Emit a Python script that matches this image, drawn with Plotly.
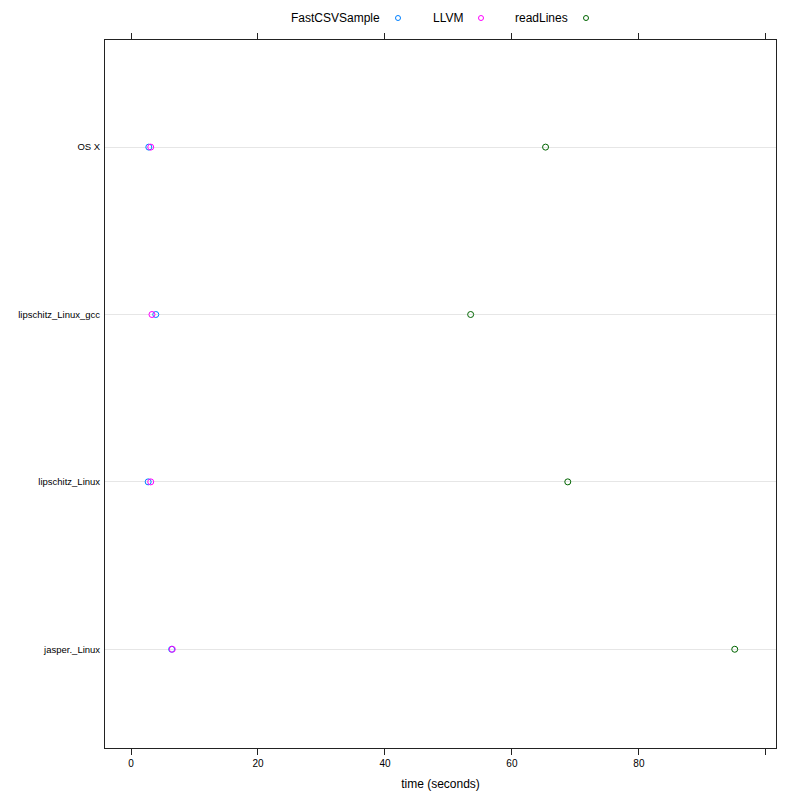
import plotly.graph_objects as go

categories = ["jasper._Linux", "lipschitz_Linux", "lipschitz_Linux_gcc", "OS X"]
series_names = ["FastCSVSample", "LLVM", "readLines"]
fastcsv = [6.4, 2.7, 3.9, 2.8]
llvm = [6.5, 3.1, 3.3, 3.1]
readlines = [95.1, 68.8, 53.5, 65.3]
colors = ["#0080ff", "#ff00ff", "#006400"]
x_ticks = [0, 20, 40, 60, 80, 100]
x_ticklabels = ["0", "20", "40", "60", "80", ""]

# plot area in page pixels (page has 8px body margin)
PL, PR, PT, PB = 105, 776, 40, 748

ypos = list(range(1, len(categories) + 1))
fig = go.Figure()
for name, vals, col in zip(series_names, [fastcsv, llvm, readlines], colors):
    fig.add_trace(go.Scatter(
        x=vals, y=ypos, mode="markers", name=name, showlegend=False,
        marker=dict(symbol="circle-open", size=6, color=col, line=dict(width=1, color=col)),
    ))

def px(x):
    return (x - PL) / (PR - PL)

def py(y):
    return (PB - y) / (PB - PT)

# legend drawn as text + symbol (text first, as in the reference)
leg_text_x = [382, 465, 570]
leg_sym_x = [398, 481, 586]
for name, col, tx, sx in zip(series_names, colors, leg_text_x, leg_sym_x):
    fig.add_annotation(x=px(tx), y=py(18), xref="paper", yref="paper",
                       text=name, showarrow=False, xanchor="right", yanchor="middle",
                       font=dict(size=12, color="black"))
    fig.add_shape(type="circle", xref="paper", yref="paper",
                  x0=px(sx - 2.5), x1=px(sx + 2.5),
                  y0=py(20.5), y1=py(15.5),
                  line=dict(color=col, width=1))

fig.update_layout(
    width=800, height=800,
    margin=dict(l=PL - 8, r=800 + 8 - PR, t=PT - 8, b=800 + 8 - PB),
    paper_bgcolor="white", plot_bgcolor="white",
    font=dict(family="Liberation Sans, Arial, sans-serif", color="black"),
    xaxis=dict(
        range=[-4.1, 101.6], tickvals=x_ticks, ticktext=x_ticklabels, automargin=False,
        ticks="outside", ticklen=6, tickcolor="#222", showgrid=False, zeroline=False,
        showline=True, linecolor="#222", linewidth=1, mirror="ticks",
        tickfont=dict(size=10), title=dict(text="time (seconds)", font=dict(size=12), standoff=11),
    ),
    yaxis=dict(
        range=[0.41, 4.64], tickvals=ypos, ticktext=categories, automargin=False,
        ticks="outside", ticklen=2, tickcolor="rgba(0,0,0,0)",
        showgrid=True, gridcolor="#e6e6e6", gridwidth=1, zeroline=False,
        showline=True, linecolor="#222", linewidth=1, mirror=True,
        tickfont=dict(size=9.5),
    ),
)

fig.write_html("out.html")
